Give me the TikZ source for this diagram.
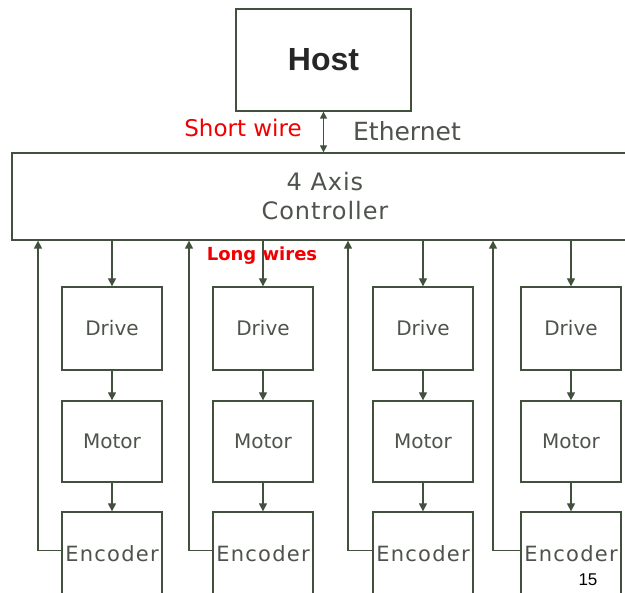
\documentclass[tikz,border=0pt]{standalone}
\usepackage{fontspec}
\setmainfont{DejaVu Sans}
\newfontfamily\arialfont{Liberation Sans}
\usetikzlibrary{arrows.meta}
\definecolor{wire}{RGB}{66,80,62}
\definecolor{boxtext}{RGB}{78,84,76}
\definecolor{redlabel}{RGB}{240,0,0}
\tikzset{
  wirestyle/.style={draw=wire, line width=1.3pt},
  flow/.style={wirestyle, -{Triangle[length=8pt,width=8pt]}},
  flowboth/.style={wirestyle, {Triangle[length=7pt,width=7pt]}-{Triangle[length=7pt,width=7pt]}},
  unitbox/.style={wirestyle, minimum width=100pt, minimum height=82pt, inner sep=0pt,
    text=boxtext, font=\fontsize{20}{24}\selectfont},
}
\begin{document}
\begin{tikzpicture}[x=1pt,y=-1pt]
\useasboundingbox (0,0) rectangle (625,593);
\clip (0,0) rectangle (625,593);
\fill[white] (0,0) rectangle (625,593);

% host and controller
\node[wirestyle, minimum width=175pt, minimum height=102pt, inner sep=0pt,
  font=\arialfont\bfseries\fontsize{32}{36}\selectfont, text=black!85] (host) at (323.5,60) {Host};
\node[wirestyle, minimum width=626pt, minimum height=87pt, inner sep=0pt,
  text=boxtext, align=center,
  font=\fontsize{24}{29}\selectfont\addfontfeature{LetterSpace=4}] (ctrl) at (325,196.5)
  {4 Axis\\[0pt]Controller};
\draw[flowboth] (host.south) -- (host.south |- ctrl.north);

% labels
\node[text=redlabel, font=\fontsize{23}{26}\selectfont] (shortlbl) at (243,128) {Short wire};
\node[text=boxtext, font=\fontsize{25}{27}\selectfont] (ethlbl) at (407,131) {Ethernet};
\node[text=redlabel, font=\bfseries\fontsize{18}{22}\selectfont] (longlbl) at (262,256) {Long wires};
\node[text=black, font=\arialfont\fontsize{17}{20}\selectfont] (pagenum) at (588,580) {15};

% four axis chains: drive -> motor -> encoder, with feedback to the controller
\foreach \i/\cx/\fx in {1/112/38, 2/263/189, 3/423/348, 4/571/493} {
  \node[unitbox, minimum height=83pt] (d\i) at (\cx,328.5) {Drive};
  \node[unitbox, minimum height=81pt] (m\i) at (\cx,441.5) {Motor};
  \node[unitbox, minimum height=83pt,
    font=\fontsize{21}{24}\selectfont\addfontfeature{LetterSpace=6}] (e\i) at (\cx,553.5) {Encoder};
  \coordinate (fb\i) at (\fx,240);
  \draw[flow] (ctrl.south -| d\i.north) -- (d\i.north);
  \draw[flow] (d\i.south) -- (m\i.north);
  \draw[flow] (m\i.south) -- (e\i.north);
  \draw[flow] ([yshift=3pt]e\i.west) -| (ctrl.south -| fb\i);
}
\end{tikzpicture}
\end{document}
